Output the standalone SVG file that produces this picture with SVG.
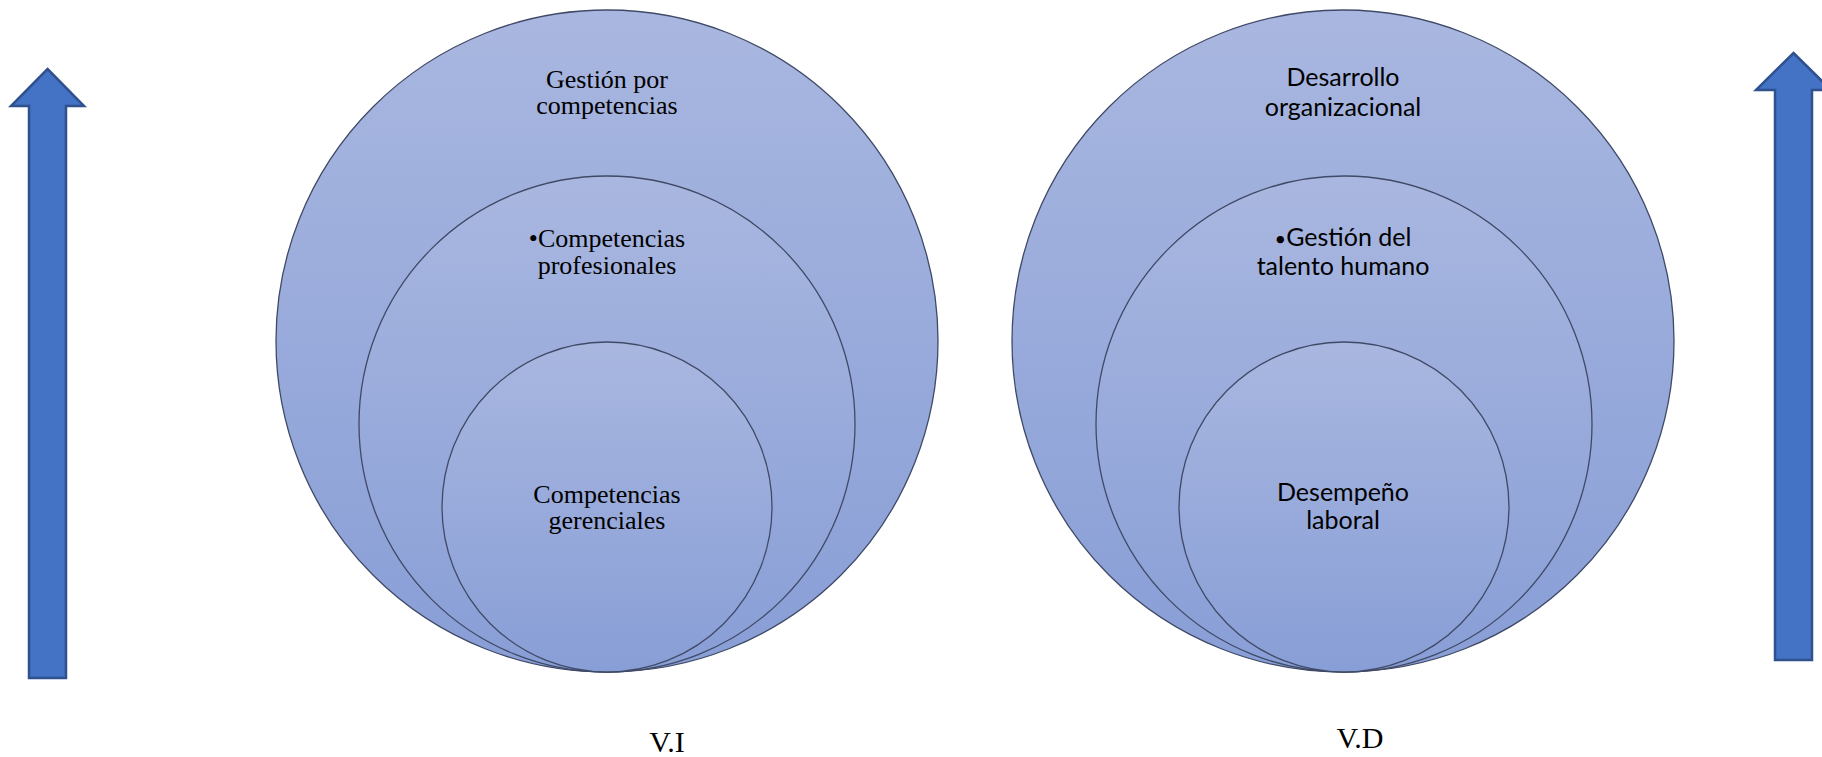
<svg xmlns="http://www.w3.org/2000/svg" width="1822" height="757" viewBox="0 0 1822 757">
<style>
.c{fill:url(#g);stroke:#404a66;stroke-width:1.3}
.arr{fill:#4472c4;stroke:#2f528f;stroke-width:2.5}
.ts{font-family:"Liberation Serif","Times New Roman",serif;font-size:26px;fill:#000;text-anchor:middle}
.tc{font-family:Lato,"Liberation Sans",sans-serif;font-size:25px;fill:#000;text-anchor:middle}
.lb{font-family:"Liberation Serif","Times New Roman",serif;font-size:30px;fill:#000;text-anchor:middle}
</style>
<defs>
<linearGradient id="g" x1="0" y1="0" x2="0" y2="1">
<stop offset="0" stop-color="#a9b7e0"/>
<stop offset="1" stop-color="#889ed6"/>
</linearGradient>
</defs>
<rect width="1822" height="757" fill="#fff"/>
<g id="arrow-left"><polygon class="arr" points="47.5,69 84,106 66,106 66,678 29,678 29,106 11,106"/></g>
<g id="arrow-right"><polygon class="arr" points="1793.5,53 1831,90 1812,90 1812,660 1775,660 1775,90 1756,90"/></g>
<g id="vi-outer"><circle class="c" cx="607" cy="341" r="331"/><text class="ts" x="607" y="88">Gestión por</text><text class="ts" x="607" y="114">competencias</text></g>
<g id="vi-middle"><circle class="c" cx="607" cy="424" r="248"/><text class="ts" x="607" y="247">•Competencias</text><text class="ts" x="607" y="274">profesionales</text></g>
<g id="vi-inner"><circle class="c" cx="607" cy="507" r="165"/><text class="ts" x="607" y="503">Competencias</text><text class="ts" x="607" y="529">gerenciales</text></g>
<g id="vd-outer"><circle class="c" cx="1343" cy="341" r="331"/><text class="tc" x="1343" y="86">Desarrollo</text><text class="tc" x="1343" y="116">organizacional</text></g>
<g id="vd-middle"><circle class="c" cx="1344" cy="424" r="248"/><text class="tc" x="1343" y="246"><tspan font-size="20">•</tspan>Gestión del</text><text class="tc" x="1343" y="275">talento humano</text></g>
<g id="vd-inner"><circle class="c" cx="1344" cy="507" r="165"/><text class="tc" x="1343" y="501">Desempeño</text><text class="tc" x="1343" y="529">laboral</text></g>
<g id="labels"><text class="lb" x="667" y="752">V.I</text><text class="lb" x="1360" y="748">V.D</text></g>
<g id="connectors"/>
</svg>
